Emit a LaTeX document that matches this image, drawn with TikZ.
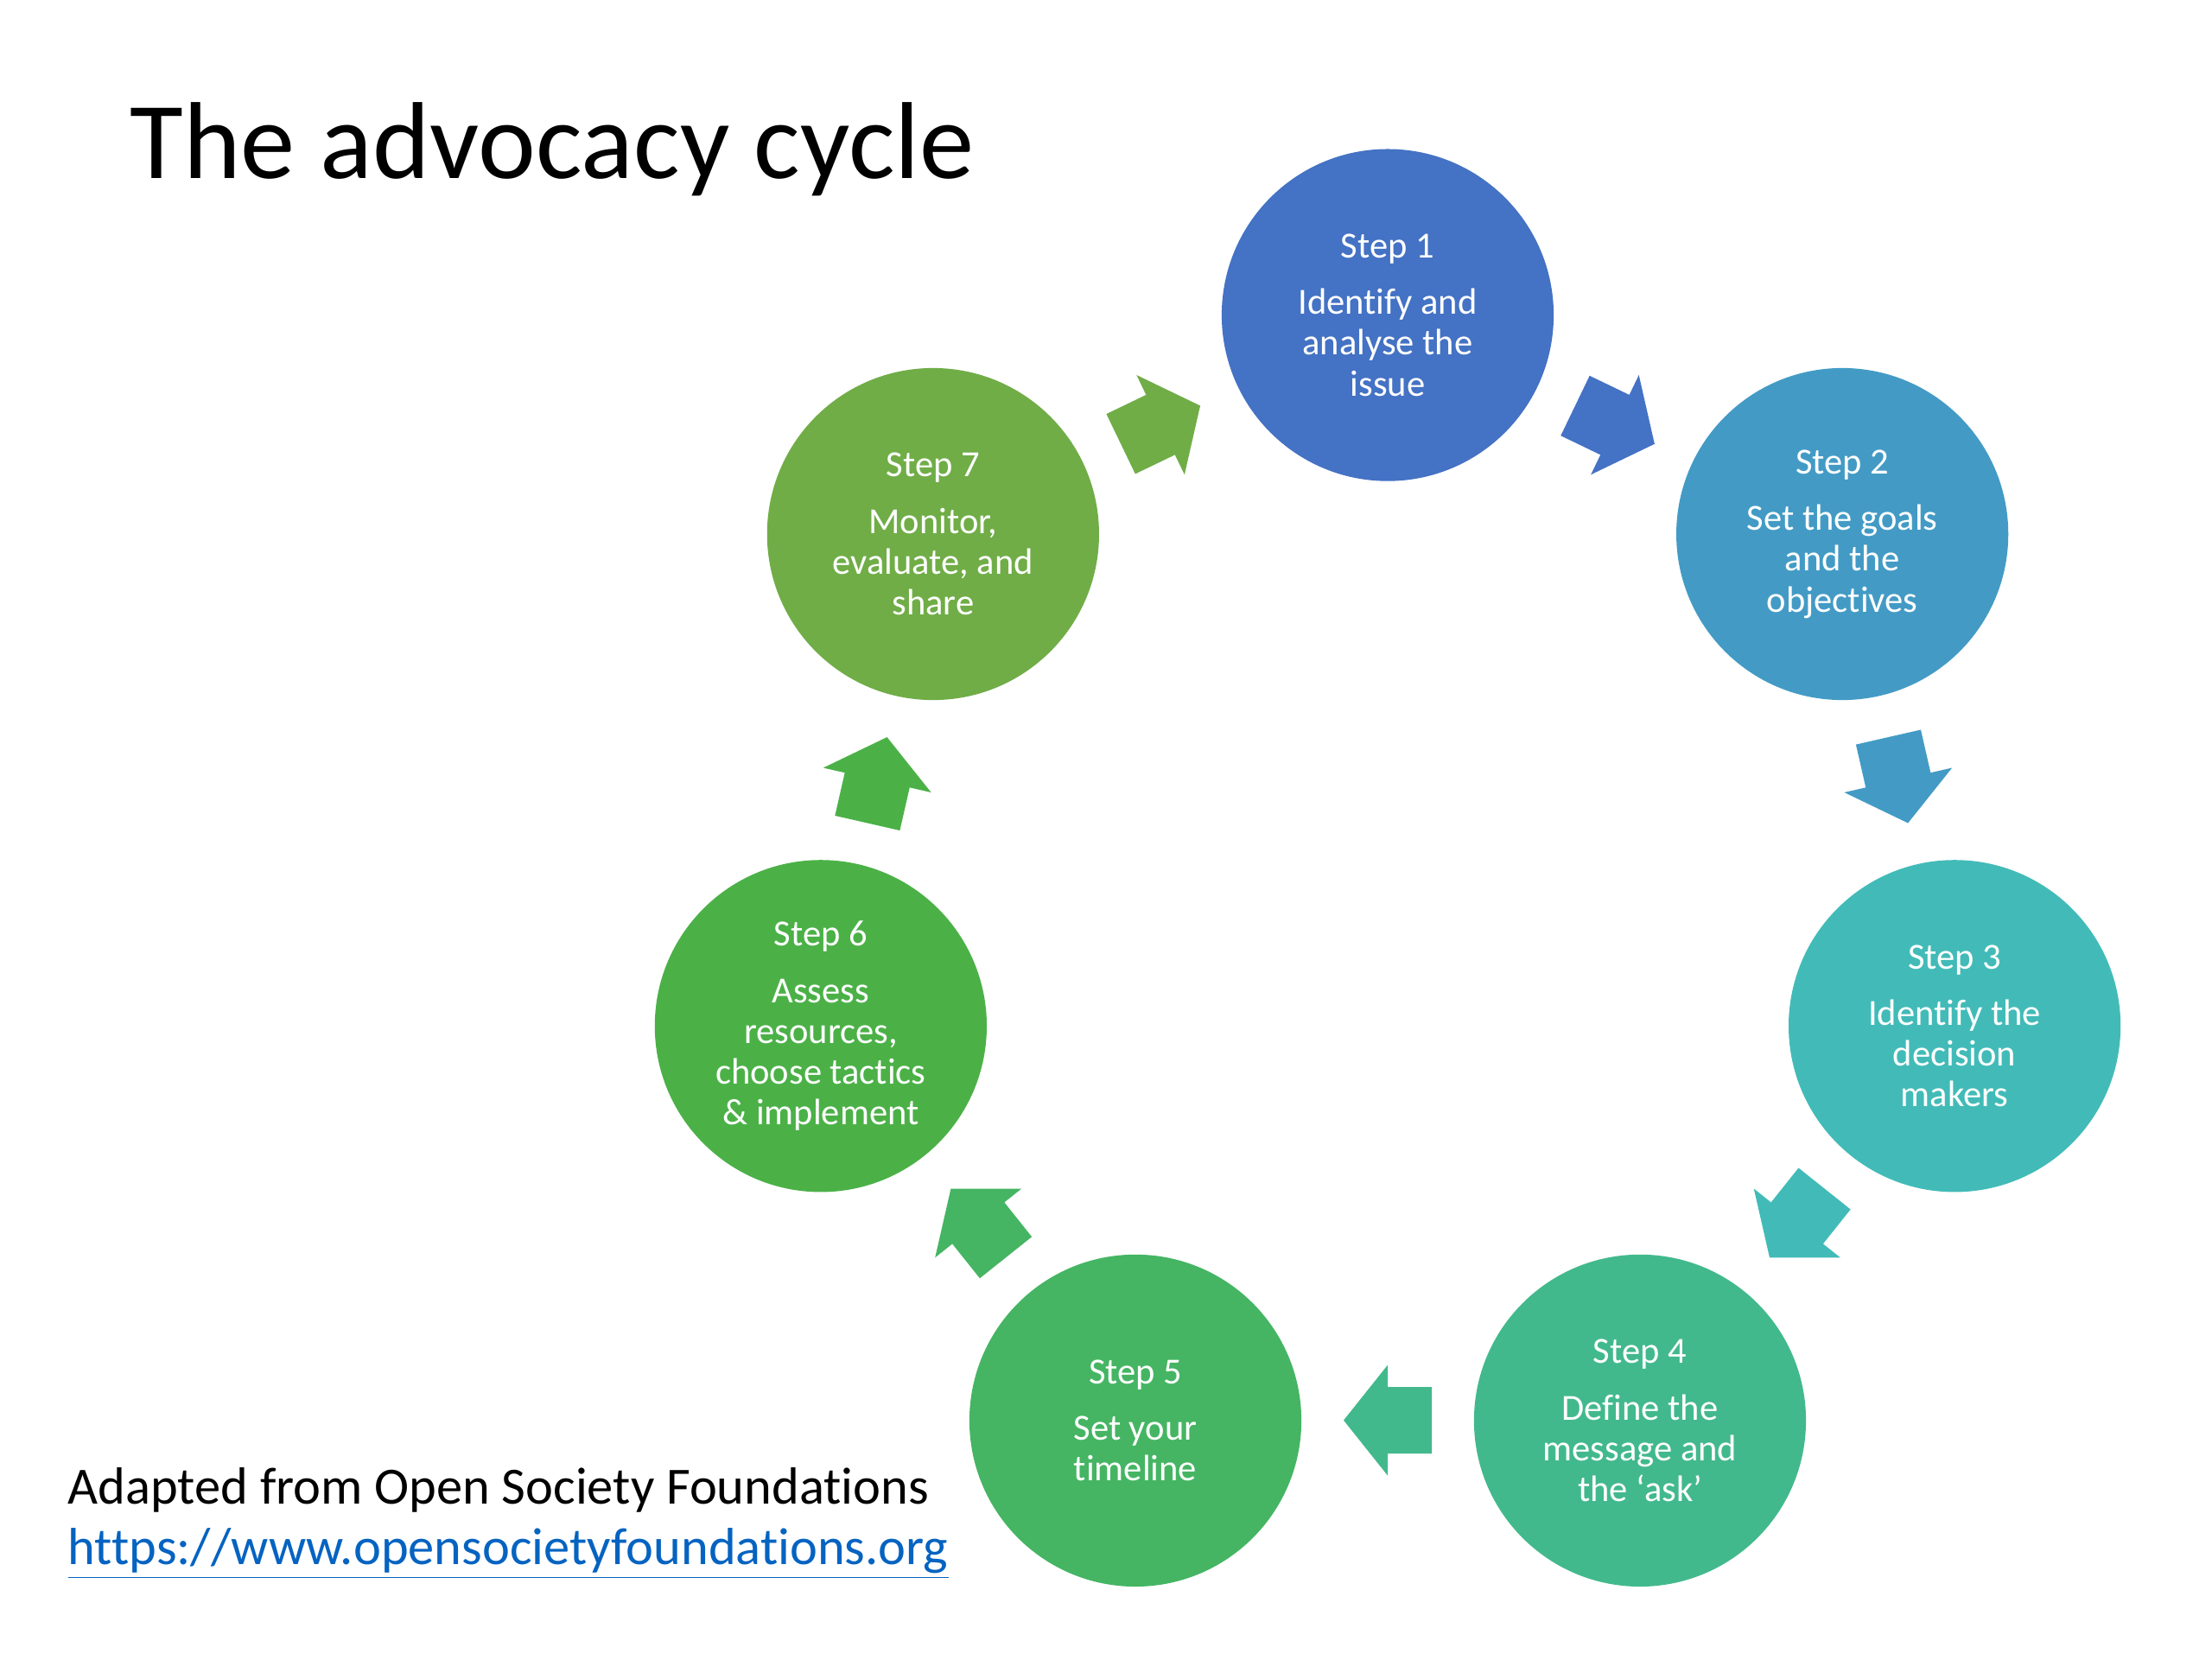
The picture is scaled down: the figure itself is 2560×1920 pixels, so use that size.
\documentclass[tikz,border=0pt]{standalone}
\usepackage{fontspec}
\setmainfont{Carlito}[Ligatures={NoCommon}]
\usetikzlibrary{calc}
\definecolor{c1}{HTML}{4472C4}
\definecolor{c2}{HTML}{439BC5}
\definecolor{c3}{HTML}{42BBB8}
\definecolor{c4}{HTML}{42B98C}
\definecolor{c5}{HTML}{45B563}
\definecolor{c6}{HTML}{4BB147}
\definecolor{c7}{HTML}{70AD47}
\definecolor{linkblue}{HTML}{0563C1}
\tikzset{
  stepnode/.style={circle, minimum size=3.84cm, inner sep=0pt, text=white, align=center,
    font=\fontsize{12.1}{13.4}\selectfont},
  plaintext/.style={anchor=base west, inner sep=0pt},
  blockarrow/.pic={\fill (-51,38.5) -- (0,38.5) -- (0,64) -- (51,0) -- (0,-64) -- (0,-38.5) -- (-51,-38.5) -- cycle;}
}
\begin{document}
\begin{tikzpicture}[x=0.01cm,y=0.01cm]
\fill[white] (0,0) rectangle (2560,1920);
\useasboundingbox (0,0) rectangle (2560,1920);
\coordinate (cc) at (1606,882.4);

\node[plaintext, font=\fontsize{36}{40}\selectfont] (title) at (150,1713) {The advocacy cycle};

\node[stepnode, fill=c1] (s1) at ($(cc)+(90:673)$) {Step 1\\[5.2pt]Identify and\\analyse the\\issue};
\node[stepnode, fill=c2] (s2) at ($(cc)+(38.571:673)$) {Step 2\\[5.2pt]Set the goals\\and the\\objectives};
\node[stepnode, fill=c3] (s3) at ($(cc)+(-12.857:673)$) {Step 3\\[5.2pt]Identify the\\decision\\makers};
\node[stepnode, fill=c4] (s4) at ($(cc)+(-64.286:673)$) {Step 4\\[5.2pt]Define the\\message and\\the ‘ask’};
\node[stepnode, fill=c5] (s5) at ($(cc)+(-115.714:673)$) {Step 5\\[5.2pt]Set your\\timeline};
\node[stepnode, fill=c6] (s6) at ($(cc)+(-167.143:673)$) {Step 6\\[5.2pt]Assess\\resources,\\choose tactics\\\& implement};
\node[stepnode, fill=c7] (s7) at ($(cc)+(141.429:673)$) {Step 7\\[5.2pt]Monitor,\\evaluate, and\\share};

\pic[color=c1, rotate=-25.714] at ($(cc)+(64.286:606)$) {blockarrow};
\pic[color=c2, rotate=-77.143] at ($(cc)+(12.857:606)$) {blockarrow};
\pic[color=c3, rotate=-128.571] at ($(cc)+(-38.571:606)$) {blockarrow};
\pic[color=c4, rotate=-180] at ($(cc)+(-90:606)$) {blockarrow};
\pic[color=c5, rotate=-231.429] at ($(cc)+(-141.429:606)$) {blockarrow};
\pic[color=c6, rotate=77.143] at ($(cc)+(167.143:606)$) {blockarrow};
\pic[color=c7, rotate=25.714] at ($(cc)+(115.714:606)$) {blockarrow};

\node[plaintext, font=\fontsize{17.2}{20}\selectfont] (src) at (78,180) {Adapted from Open Society Foundations};
\node[plaintext, font=\fontsize{17.2}{20}\selectfont, text=linkblue] (url) at (78,110) {\underline{https://www.opensocietyfoundations.org}};
\end{tikzpicture}
\end{document}
